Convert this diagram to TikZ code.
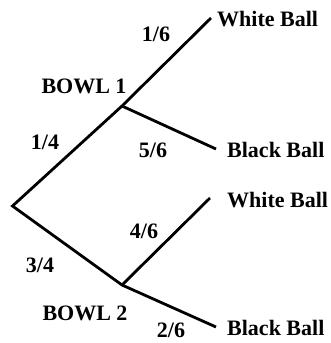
\documentclass[tikz,border=0pt]{standalone}
\usepackage{fontspec}
\setmainfont{Liberation Serif}
\begin{document}
\begin{tikzpicture}[x=1pt,y=-1pt,
  branch/.style={line width=2.8pt,line join=miter},
  lbl/.style={inner sep=0pt,font=\fontsize{22}{26}\selectfont\bfseries}]
\useasboundingbox (0,0) rectangle (330,343);
\coordinate (root) at (12.5,206);
\coordinate (b1) at (122,106);
\coordinate (b2) at (122,285);
\coordinate (w1) at (211,18);
\coordinate (k1) at (216,149);
\coordinate (w2) at (210,198);
\coordinate (k2) at (216,327);
\draw[branch] (w1) -- (b1) -- (root) -- (b2) -- (k2);
\draw[branch] (b1) -- (k1);
\draw[branch] (b2) -- (w2);
\node[lbl,anchor=west] (tw1) at (217,19) {White Ball};
\node[lbl,anchor=west] (tk1) at (227,150) {Black Ball};
\node[lbl,anchor=west] (tw2) at (227,200) {White Ball};
\node[lbl,anchor=west] (tk2) at (227,328) {Black Ball};
\node[lbl] (p16) at (156,34) {1/6};
\node[lbl] (bowl1) at (84,86) {BOWL 1};
\node[lbl] (p14) at (45,142) {1/4};
\node[lbl] (p56) at (153,150) {5/6};
\node[lbl] (p46) at (144,231) {4/6};
\node[lbl] (p34) at (40,265) {3/4};
\node[lbl] (bowl2) at (85,313) {BOWL 2};
\node[lbl] (p26) at (171,330) {2/6};
\end{tikzpicture}
\end{document}
